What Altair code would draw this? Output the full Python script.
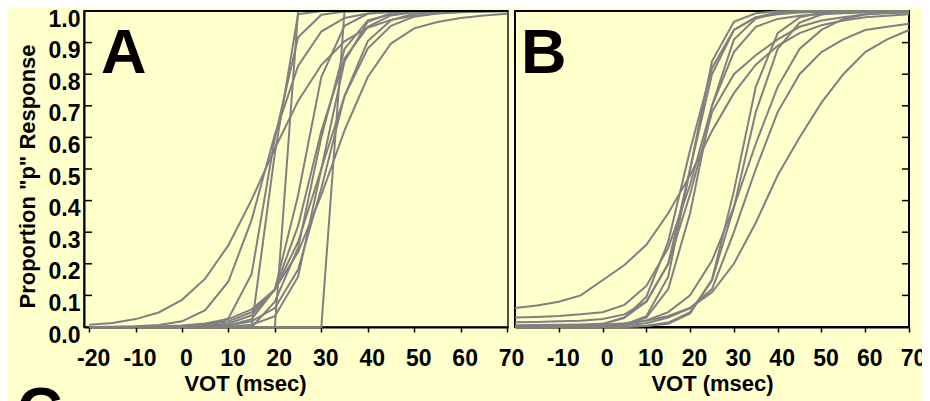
import altair as alt
import pandas as pd

# VOT steps (ms) at which each identification function was sampled
VOT = [-20, -15, -10, -5, 0, 5, 10, 15, 20, 25, 30, 35, 40, 45, 50, 55, 60, 65, 70]

# Panel A: proportion "p" responses per listener
A_CURVES = {
    "a1": [0.007, 0.013, 0.025, 0.046, 0.086, 0.153, 0.259, 0.403, 0.565, 0.715, 0.829, 0.904, 0.947, 0.972, 0.985, 0.992, 0.996, 0.998, 0.999],
    "a2": [0.0, 0.001, 0.002, 0.006, 0.018, 0.053, 0.144, 0.339, 0.609, 0.826, 0.935, 0.978, 0.992, 0.997, 0.999, 1, 1, 1, 1],
    "a3": [0, 0, 0, 0, 0, 0, 0, 0, 0, 1, 1, 1, 1, 1, 1, 1, 1, 1, 1],
    "a4": [0, 0, 0, 0, 0, 0, 0, 0, 0, 0, 0, 1, 1, 1, 1, 1, 1, 1, 1],
    "a5": [0, 0, 0, 0, 0, 0, 0, 0, 0.55, 0.99, 1, 1, 1, 1, 1, 1, 1, 1, 1],
    "a6": [0, 0, 0, 0, 0, 0.004, 0.027, 0.168, 0.599, 0.917, 0.988, 0.998, 1, 1, 1, 1, 1, 1, 1],
    "a7": [0, 0, 0, 0, 0.001, 0.003, 0.011, 0.037, 0.119, 0.32, 0.62, 0.85, 0.95, 0.986, 0.996, 0.999, 1, 1, 1],
    "a8": [0, 0, 0, 0, 0, 0, 0.001, 0.007, 0.034, 0.159, 0.5, 0.841, 0.966, 0.993, 0.999, 1, 1, 1, 1],
    "a9": [0, 0, 0, 0, 0, 0.002, 0.005, 0.018, 0.06, 0.182, 0.438, 0.731, 0.905, 0.971, 0.991, 0.998, 1, 1, 1],
    "a10": [0, 0, 0, 0, 0.002, 0.007, 0.018, 0.047, 0.119, 0.269, 0.5, 0.731, 0.881, 0.953, 0.982, 0.993, 0.997, 0.999, 1],
    "a11": [0, 0, 0.001, 0.002, 0.005, 0.011, 0.025, 0.056, 0.119, 0.237, 0.417, 0.622, 0.791, 0.897, 0.945, 0.965, 0.978, 0.986, 0.991],
    "a12": [0, 0, 0, 0, 0, 0, 0, 0, 0.08, 0.25, 0.6, 0.88, 0.97, 0.99, 1, 1, 1, 1, 1],
    "a13": [0, 0, 0, 0, 0, 0.001, 0.005, 0.025, 0.119, 0.417, 0.791, 0.953, 0.991, 0.998, 1, 1, 1, 1, 1],
}

# Panel B
B_CURVES = {
    "b1": [0.06, 0.068, 0.08, 0.1, 0.148, 0.196, 0.26, 0.36, 0.48, 0.62, 0.74, 0.83, 0.89, 0.93, 0.955, 0.97, 0.98, 0.985, 0.99],
    "b2": [0.03, 0.032, 0.035, 0.04, 0.047, 0.07, 0.13, 0.25, 0.45, 0.7, 0.87, 0.95, 0.975, 0.985, 0.99, 0.993, 0.995, 0.996, 0.997],
    "b3": [0.015, 0.016, 0.018, 0.02, 0.025, 0.04, 0.08, 0.2, 0.5, 0.8, 0.94, 0.98, 0.99, 0.995, 0.997, 0.998, 0.999, 1, 1],
    "b4": [0, 0, 0, 0, 0.001, 0.007, 0.034, 0.159, 0.5, 0.841, 0.966, 0.993, 0.999, 1, 1, 1, 1, 1, 1],
    "b5": [0, 0, 0, 0, 0.002, 0.008, 0.03, 0.12, 0.36, 0.7, 0.91, 0.976, 0.994, 0.998, 1, 1, 1, 1, 1],
    "b6": [0, 0, 0, 0.003, 0.009, 0.029, 0.095, 0.27, 0.56, 0.82, 0.94, 0.98, 0.995, 0.998, 1, 1, 1, 1, 1],
    "b7": [0.005, 0.006, 0.007, 0.008, 0.01, 0.03, 0.08, 0.2, 0.42, 0.68, 0.8, 0.86, 0.91, 0.95, 0.97, 0.98, 0.99, 0.993, 0.995],
    "b8": [0, 0, 0, 0, 0, 0, 0.003, 0.01, 0.043, 0.15, 0.43, 0.76, 0.93, 0.98, 0.995, 0.999, 1, 1, 1],
    "b9": [0, 0, 0, 0, 0, 0.001, 0.004, 0.014, 0.047, 0.148, 0.378, 0.68, 0.88, 0.963, 0.989, 0.997, 0.999, 1, 1],
    "b10": [0, 0, 0.001, 0.002, 0.004, 0.009, 0.021, 0.047, 0.1, 0.21, 0.38, 0.58, 0.76, 0.88, 0.94, 0.975, 0.989, 0.995, 0.998],
    "b11": [0, 0, 0, 0.001, 0.003, 0.006, 0.012, 0.03, 0.06, 0.12, 0.3, 0.5, 0.68, 0.8, 0.87, 0.91, 0.94, 0.95, 0.96],
    "b12": [0.005, 0.005, 0.005, 0.006, 0.007, 0.012, 0.02, 0.035, 0.06, 0.11, 0.2, 0.33, 0.48, 0.6, 0.71, 0.8, 0.87, 0.91, 0.94],
}

Y_LABELS = [0.0, 0.1, 0.2, 0.3, 0.4, 0.5, 0.6, 0.7, 0.8, 0.9, 1.0]
Y_INNER_TICKS = [0.1, 0.2, 0.3, 0.4, 0.5, 0.6, 0.7, 0.8, 0.9]
X_LABELS_A = [-20, -10, 0, 10, 20, 30, 40, 50, 60, 70]
X_LABELS_B = [-10, 0, 10, 20, 30, 40, 50, 60, 70]
X_TITLE = "VOT (msec)"
Y_TITLE = 'Proportion "p" Response'


def to_long(curves):
    rows = []
    for name, ys in curves.items():
        for x, y in zip(VOT, ys):
            rows.append({"curve": name, "vot": x, "p": y})
    return pd.DataFrame(rows)


dfA = to_long(A_CURVES)
dfB = to_long(B_CURVES)
df_ticks = pd.DataFrame({"p": Y_INNER_TICKS})
df_top = pd.DataFrame({"p": [1.0]})

FONT = "Liberation Sans"
GREY = "#808080"
BG = "#FFFFCC"
WA, WB, H = 424, 394, 316

xA = alt.Scale(domain=[-21.1, 70.2], nice=False, zero=False)
xB = alt.Scale(domain=[-20, 70], nice=False, zero=False)
yS = alt.Scale(domain=[0, 1], nice=False, zero=False)

x_axis_style = dict(
    tickSize=5, tickWidth=1.5, tickColor="black",
    domainColor="black", domainWidth=2,
    labelFont=FONT, labelFontSize=23, labelFontWeight="bold", labelColor="black",
    labelPadding=15, labelOffset=4, labelExpr="'' + datum.value",
    labelFlush=False, labelOverlap=False, grid=False,
    titleFont=FONT, titleFontSize=22, titleFontWeight="bold", titleColor="black",
    titleBaseline="alphabetic", titleY=63,
)

yAxisA = alt.Axis(values=Y_LABELS, format=".1f", ticks=False, tickSize=0,
                  domainColor="black", domainWidth=2, grid=False,
                  labelFont=FONT, labelFontSize=23, labelFontWeight="bold",
                  labelColor="black", labelPadding=4, labelOffset=8,
                  labelFlush=False, labelOverlap=False, labelSeparation=0,
                  title=Y_TITLE, titleFont=FONT, titleFontSize=22,
                  titleFontWeight="bold", titleColor="black",
                  titleAngle=270, titleBaseline="middle", titleAlign="center",
                  titleX=-57, titleY=165)

# ---------- Panel A ----------
linesA = alt.Chart(dfA).mark_line(color=GREY, strokeWidth=2).encode(
    x=alt.X("vot:Q", scale=xA,
            axis=alt.Axis(values=X_LABELS_A, title=X_TITLE, titleX=161, **x_axis_style)),
    y=alt.Y("p:Q", scale=yS, axis=yAxisA),
    detail="curve:N",
)

ticksA = alt.Chart(df_ticks).mark_rule(color="black", strokeWidth=1.5).encode(
    y=alt.Y("p:Q", scale=yS, axis=yAxisA), x=alt.value(0), x2=alt.value(8))

topA = alt.Chart(df_top).mark_rule(color="black", strokeWidth=2).encode(
    y=alt.Y("p:Q", scale=yS, axis=yAxisA), x=alt.value(0), x2=alt.value(WA))

labelA = alt.Chart(pd.DataFrame({"lab": ["A"]})).mark_text(
    font=FONT, fontSize=63, fontWeight="bold", color="black", align="left",
    baseline="alphabetic").encode(text="lab:N", x=alt.value(17), y=alt.value(62))

labelC = alt.Chart(pd.DataFrame({"lab": ["C"]})).mark_text(
    font=FONT, fontSize=63, fontWeight="bold", color="black", align="left",
    baseline="alphabetic").encode(text="lab:N", x=alt.value(-67), y=alt.value(420))

panelA = alt.layer(linesA, ticksA, topA, labelA, labelC).properties(
    width=WA, height=H,
    view=alt.ViewBackground(stroke="#505050", strokeWidth=2),
)

# ---------- Panel B ----------
linesB = alt.Chart(dfB).mark_line(color=GREY, strokeWidth=2).encode(
    x=alt.X("vot:Q", scale=xB,
            axis=alt.Axis(values=X_LABELS_B, title=X_TITLE, **x_axis_style)),
    y=alt.Y("p:Q", scale=yS, axis=None),
    detail="curve:N",
)

ticksB = alt.Chart(df_ticks).mark_rule(color="black", strokeWidth=1.5).encode(
    y=alt.Y("p:Q", scale=yS, axis=None), x=alt.value(WB - 7), x2=alt.value(WB))

labelB = alt.Chart(pd.DataFrame({"lab": ["B"]})).mark_text(
    font=FONT, fontSize=63, fontWeight="bold", color="black", align="left",
    baseline="alphabetic").encode(text="lab:N", x=alt.value(6), y=alt.value(62))

panelB = alt.layer(linesB, ticksB, labelB).properties(
    width=WB, height=H,
    view=alt.ViewBackground(stroke="black", strokeWidth=2),
)

chart = alt.hconcat(panelA, panelB, spacing=7, bounds="flush").properties(
    autosize=alt.AutoSizeParams(type="none"),
    padding={"left": 76, "top": 3, "right": 838, "bottom": 382},
).configure(background=BG).configure_axis(labelOverlap=False)

chart.save("out.html", embed_options={"renderer": "svg", "actions": False})
